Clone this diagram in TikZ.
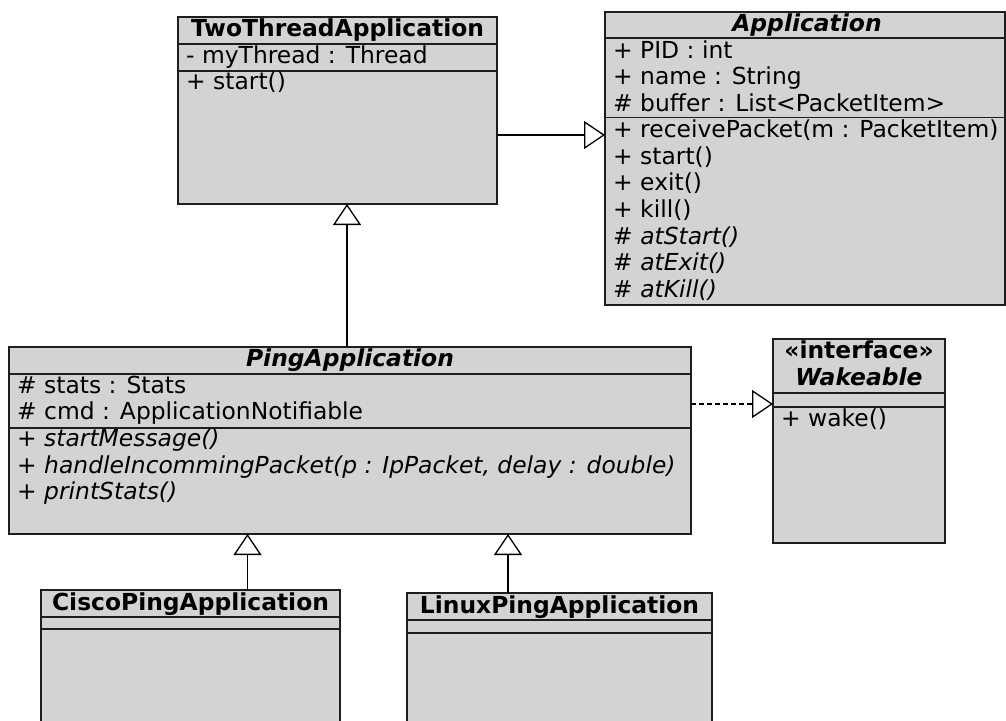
\documentclass[tikz,border=0pt]{standalone}
\usepackage{fontspec}
\setmainfont{DejaVu Sans}
\usetikzlibrary{arrows.meta,calc}
\definecolor{boxgray}{RGB}{211,211,211}
\definecolor{linecol}{RGB}{30,30,30}
\newcommand\umlfont{\fontsize{23.4}{26.6}\selectfont}
\tikzset{
  classbox/.style={draw=linecol, fill=boxgray, line width=1.6pt, inner sep=0pt, outer sep=0pt},
  member/.style={anchor=base west, inner sep=0pt, font=\umlfont},
  imember/.style={member, font=\umlfont\itshape},
  ctitle/.style={anchor=base, inner sep=0pt, font=\umlfont\bfseries},
  ititle/.style={anchor=base, inner sep=0pt, font=\umlfont\bfseries\itshape},
  sepline/.style={draw=linecol, line width=1.6pt},
  gen/.style={draw=black, line width=1.3pt, -{Triangle[length=21pt,width=28pt,fill=white]}},
  real/.style={gen, dash pattern=on 5pt off 3pt},
}
\begin{document}
\begin{tikzpicture}[x=1pt,y=-1pt]
\clip (0,0) rectangle (1006,720);
\fill[white] (0,0) rectangle (1006,720);

% TwoThreadApplication
\node[classbox, minimum width=319, minimum height=187] (TT) at (337.5,110.5) {};
\draw[sepline] (TT.west |- 0,44) -- (TT.east |- 0,44);
\draw[sepline] (TT.west |- 0,71) -- (TT.east |- 0,71);
\node[ctitle] (TTt) at (337.5,36.5) {TwoThreadApplication};
\node[member] (TTa1) at (186,63.5) {- myThread : Thread};
\node[member] (TTm1) at (186,89.5) {+ start()};

% Application
\node[classbox, minimum width=400, minimum height=293] (App) at (805,158.5) {};
\draw[sepline] (App.west |- 0,38) -- (App.east |- 0,38);
\draw[sepline] (App.west |- 0,117.5) -- (App.east |- 0,117.5);
\node[ititle] (Appt) at (807,31) {Application};
\node[member] (Appa1) at (613,58.3) {+ PID : int};
\node[member] (Appa2) at (613,84.9) {+ name : String};
\node[member] (Appa3) at (613,111.5) {\# buffer : List<PacketItem>};
\node[member] (Appm1) at (613,137.7) {+ receivePacket(m : PacketItem)};
\node[member] (Appm2) at (613,164.3) {+ start()};
\node[member] (Appm3) at (613,190.9) {+ exit()};
\node[member] (Appm4) at (613,217.5) {+ kill()};
\node[member] (Appm5) at (613,244.1) {\# \textit{atStart()}};
\node[member] (Appm6) at (613,270.7) {\# \textit{atExit()}};
\node[member] (Appm7) at (613,297.3) {\# \textit{atKill()}};

% PingApplication
\node[classbox, minimum width=682, minimum height=187] (Ping) at (350,440.5) {};
\draw[sepline] (Ping.west |- 0,374) -- (Ping.east |- 0,374);
\draw[sepline] (Ping.west |- 0,428) -- (Ping.east |- 0,428);
\node[ititle] (Pingt) at (350,366) {PingApplication};
\node[member] (Pinga1) at (17,393.3) {\# stats : Stats};
\node[member] (Pinga2) at (17,419.9) {\# cmd : ApplicationNotifiable};
\node[member] (Pingm1) at (17,446.7) {+ \textit{startMessage()}};
\node[member] (Pingm2) at (17,473.3) {+ \textit{handleIncommingPacket(p : IpPacket, delay : double)}};
\node[member] (Pingm3) at (17,499.9) {+ \textit{printStats()}};

% Wakeable
\node[classbox, minimum width=172, minimum height=204] (Wake) at (859,441) {};
\draw[sepline] (Wake.west |- 0,393) -- (Wake.east |- 0,393);
\draw[sepline] (Wake.west |- 0,407) -- (Wake.east |- 0,407);
\node[ctitle] (Wakes) at (859,358.3) {«interface»};
\node[ititle] (Waket) at (859,385) {Wakeable};
\node[member] (Wakem1) at (781,426.7) {+ wake()};

% CiscoPingApplication
\node[classbox, minimum width=299, minimum height=150] (Cisco) at (190.5,665) {};
\draw[sepline] (Cisco.west |- 0,617) -- (Cisco.east |- 0,617);
\draw[sepline] (Cisco.west |- 0,629) -- (Cisco.east |- 0,629);
\node[ctitle] (Ciscot) at (190.5,610) {CiscoPingApplication};

% LinuxPingApplication
\node[classbox, minimum width=305, minimum height=150] (Linux) at (559.5,668) {};
\draw[sepline] (Linux.west |- 0,620) -- (Linux.east |- 0,620);
\draw[sepline] (Linux.west |- 0,633) -- (Linux.east |- 0,633);
\node[ctitle] (Linuxt) at (559.5,613) {LinuxPingApplication};

% connectors
\draw[gen] ([yshift=-24.5pt]TT.east) -- ([yshift=-24.5pt]TT.east -| App.west);
\draw[gen] ([xshift=-3pt]Ping.north) -- ([xshift=-3pt]Ping.north |- TT.south);
\draw[gen] ([xshift=57pt]Cisco.north) -- ([xshift=57pt]Cisco.north |- Ping.south);
\draw[gen] ([xshift=-51.5pt]Linux.north) -- ([xshift=-51.5pt]Linux.north |- Ping.south);
\draw[real] ([yshift=36.5pt]Ping.east) -- ([yshift=36.5pt]Ping.east -| Wake.west);
\end{tikzpicture}
\end{document}
